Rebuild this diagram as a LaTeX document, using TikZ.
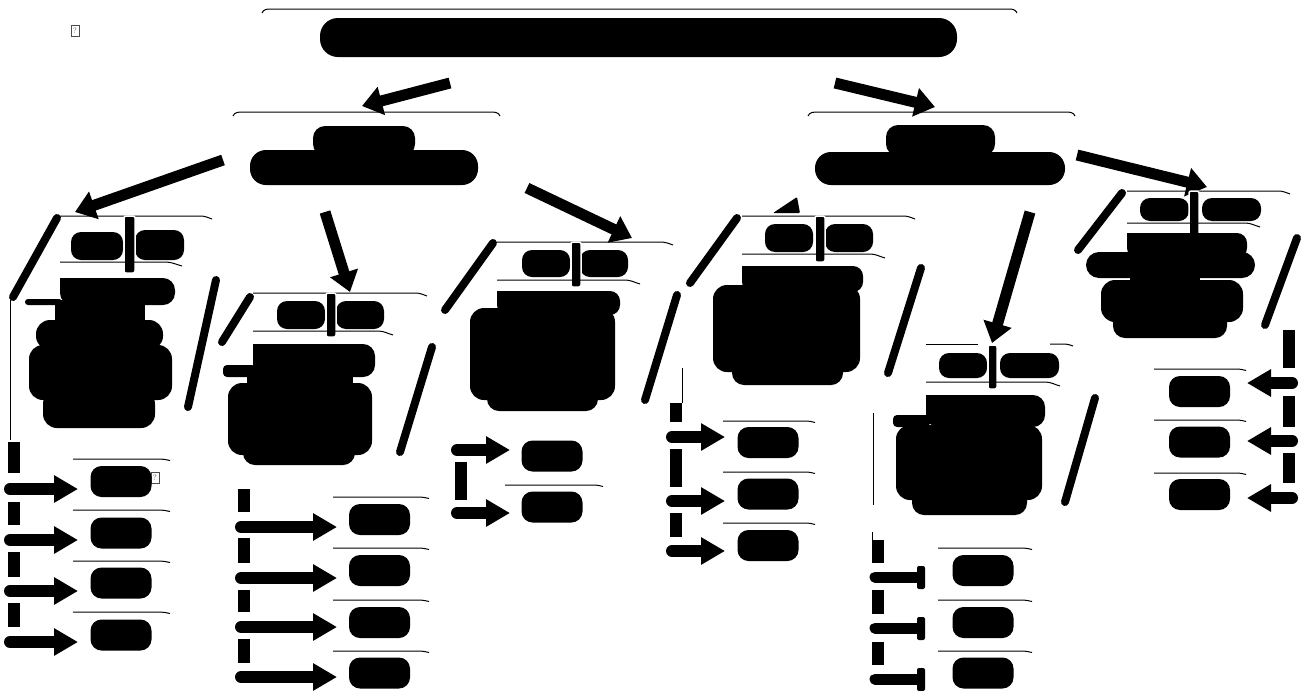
\documentclass[tikz,border=0pt]{standalone}
\usetikzlibrary{arrows.meta}
\begin{document}
\begin{tikzpicture}[x=1pt,y=-1pt,
  hline/.style={line width=1pt},
  slant/.style={line width=8pt, line cap=round},
  vbar/.style={line width=12pt},
  bigarrow/.style={line width=11pt, -{Triangle[length=20pt,width=28pt]}},
  listarrow/.style={line width=12pt, line cap=round, -{Triangle[length=24pt,width=26pt]}},
  tarrow/.style={line width=11pt, line cap=round},
  tbar/.style={fill=black, rounded corners=2pt},
  pill/.style={fill=black, rounded corners=11pt, inner sep=0pt, minimum width=61pt, minimum height=31pt},
  hbar/.style={fill=black, draw=white, line width=1.5pt, rounded corners=2pt},
  qbox/.style={draw=black!70, line width=0.6pt, inner sep=0.8pt, minimum width=8pt, minimum height=11pt, font=\fontsize{8}{8}\selectfont, text=black!70},
]
\useasboundingbox (0,0) rectangle (1310,691);

% missing-glyph boxes
\node[qbox] (q1) at (75,31) {?};
\node[qbox] (q2) at (155,478) {?};

% ---------- title ----------
\draw[hline] (262,13) to[out=70,in=180] (270,9) -- (1009,9) to[out=0,in=110] (1017,13);
\fill[rounded corners=18pt] (320,18) rectangle (957,57);
\draw[bigarrow] (450,83) -- (362,106);
\draw[bigarrow] (835,83) -- (935,107);

% ---------- second level, left ----------
\draw[hline] (233,116) to[out=70,in=180] (243,112) -- (490,112) to[out=0,in=110] (500,116);
\fill[rounded corners=12pt] (313,126) rectangle (415,156);
\fill[rounded corners=16pt] (250,150) rectangle (478,185);
\draw[bigarrow] (223,160) -- (75,212);
\draw[bigarrow] (325,212) -- (350,292);
\draw[bigarrow] (527,188) -- (632,238);

% ---------- second level, right ----------
\draw[hline] (808,116) to[out=70,in=180] (818,112) -- (1065,112) to[out=0,in=110] (1075,116);
\fill[rounded corners=12pt] (886,125) rectangle (995,156);
\fill[rounded corners=16pt] (815,152) rectangle (1065,185);
\fill[rounded corners=1pt] (773,213) -- (800,213) -- (797,197) -- cycle;
\draw[bigarrow] (1030,212) -- (992,343);
\draw[bigarrow] (1077,155) -- (1207,187);

% ---------- box A ----------
\draw[hline] (60,216) -- (200,216) to[out=0,in=160] (212,219);
\fill[rounded corners=10pt] (71,232) rectangle (123,260);
\fill[rounded corners=10pt] (135,230) rectangle (184,260);
\filldraw[hbar] (124,216) rectangle (135,273);
\draw[hline] (60,262) -- (165,262) to[out=0,in=165] (182,266);
\fill[rounded corners=12pt] (60,278) rectangle (175,305);
\fill (60,278) rectangle (80,290);
\fill[rounded corners=3pt] (25,299) rectangle (62,305);
\fill (55,300) rectangle (145,325);
\fill[rounded corners=14pt] (36,320) rectangle (163,350);
\fill[rounded corners=14pt] (29,345) rectangle (172,400);
\fill[rounded corners=14pt] (43,390) rectangle (155,428);
\draw[slant] (57,218) -- (13,297);
\draw[slant] (216,280) -- (188,407);
\draw[hline] (10,300) -- (10,440);
\foreach \a/\b in {442/473,502/525,552/577,603/627} \draw[vbar] (13.5,\a) -- (13.5,\b);
\foreach \y in {489,540,591,642} \draw[listarrow] (10,\y) -- (78,\y);
\node[pill] (a1) at (121,481.5) {};
\node[pill] (a2) at (121,533) {};
\node[pill] (a3) at (121,583) {};
\node[pill] (a4) at (121,635) {};
\foreach \y in {459,510,561,612} \draw[hline] (73,\y) -- (160,\y) to[out=0,in=170] (170,\y+1.5);

% ---------- box B ----------
\draw[hline] (253,293) -- (415,293) to[out=0,in=160] (427,296);
\fill[rounded corners=10pt] (277,301) rectangle (325,329);
\fill[rounded corners=10pt] (336,301) rectangle (384,329);
\filldraw[hbar] (326,293) rectangle (336,337);
\draw[hline] (253,331) -- (378,331) to[out=0,in=165] (393,335);
\fill[rounded corners=12pt] (253,344) rectangle (375,377);
\fill (253,344) rectangle (273,360);
\fill[rounded corners=4pt] (223,365) rectangle (256,377);
\fill (247,372) rectangle (353,386);
\fill[rounded corners=14pt] (228,383) rectangle (372,455);
\fill[rounded corners=12pt] (243,440) rectangle (355,465);
\draw[slant] (250,297) -- (222,342);
\draw[slant] (432,347) -- (400,452);
\foreach \a/\b in {489/512,538/563,590/612,639/663} \draw[vbar] (244,\a) -- (244,\b);
\foreach \y in {527,578,627,677} \draw[listarrow] (241,\y) -- (337,\y);
\node[pill] (b1) at (379.5,519.5) {};
\node[pill] (b2) at (379.5,570.5) {};
\node[pill] (b3) at (379.5,622.5) {};
\node[pill] (b4) at (379.5,673) {};
\foreach \y in {497,548,600,651} \draw[hline] (333,\y) -- (420,\y) to[out=0,in=170] (429,\y+1.5);

% ---------- box C ----------
\draw[hline] (497,242) -- (660,242) to[out=0,in=160] (673,245);
\fill[rounded corners=10pt] (522,250) rectangle (570,277);
\fill[rounded corners=10pt] (580,250) rectangle (628,277);
\filldraw[hbar] (571,242) rectangle (581,287);
\draw[hline] (497,280) -- (625,280) to[out=0,in=165] (640,284);
\fill[rounded corners=10pt] (497,291) rectangle (620,315);
\fill (497,291) rectangle (515,305);
\fill[rounded corners=14pt] (470,308) rectangle (615,400);
\fill[rounded corners=12pt] (487,385) rectangle (598,411);
\draw[slant] (493,243) -- (445,310);
\draw[slant] (677,295) -- (645,400);
\draw[vbar] (461,462) -- (461,500);
\foreach \y in {450,513} \draw[listarrow] (457,\y) -- (510,\y);
\node[pill] (c1) at (552,456) {};
\node[pill] (c2) at (552,507) {};
\draw[hline] (505,485) -- (595,485) to[out=0,in=170] (603,486.5);

% ---------- box D ----------
\draw[hline] (742,216) -- (903,216) to[out=0,in=160] (915,219);
\fill[rounded corners=10pt] (765,224) rectangle (813,252);
\fill[rounded corners=10pt] (825,224) rectangle (873,252);
\filldraw[hbar] (815,216) rectangle (825,262);
\draw[hline] (742,254) -- (870,254) to[out=0,in=165] (885,258);
\fill[rounded corners=10pt] (742,266) rectangle (863,292);
\fill (742,266) rectangle (760,280);
\fill[rounded corners=14pt] (713,285) rectangle (860,372);
\fill[rounded corners=12pt] (732,360) rectangle (843,385);
\draw[slant] (737,218) -- (690,283);
\draw[slant] (921,268) -- (888,373);
\draw[hline] (682,368) -- (682,403);
\foreach \a/\b in {403/422,449/487,513/537} \draw[vbar] (676,\a) -- (676,\b);
\foreach \y in {437,501,551} \draw[listarrow] (672,\y) -- (725,\y);
\node[pill] (d1) at (768,442.5) {};
\node[pill] (d2) at (768,494) {};
\node[pill] (d3) at (768,545.5) {};
\foreach \y in {421,472,523} \draw[hline] (723,\y) -- (807,\y) to[out=0,in=170] (815,\y+1.5);

% ---------- box E ----------
\draw[hline] (926,344) -- (978,344);
\draw[hline] (1050,344) -- (1063,344) to[out=0,in=160] (1073,346);
\fill[rounded corners=10pt] (939,353) rectangle (987,378);
\fill[rounded corners=10pt] (1000,353) rectangle (1059,378);
\filldraw[hbar] (988,345) rectangle (997,389);
\draw[hline] (926,382) -- (1045,382) to[out=0,in=165] (1060,386);
\fill[rounded corners=12pt] (926,395) rectangle (1045,427);
\fill (926,395) rectangle (945,410);
\fill[rounded corners=4pt] (893,415) rectangle (930,427);
\fill[rounded corners=14pt] (896,425) rectangle (1042,500);
\fill[rounded corners=12pt] (912,488) rectangle (1027,515);
\draw[slant] (1095,398) -- (1065,502);
\draw[hline] (873,413) -- (873,505);
\draw[hline] (872,532) -- (872,540);
\foreach \a/\b in {540/563,590/614,642/665} \draw[vbar] (877.5,\a) -- (877.5,\b);
\foreach \y in {577,628,679} {
  \draw[tarrow] (875,\y) -- (918,\y);
  \fill[tbar] (917,\y-11) rectangle (925,\y+12);
}
\node[pill] (e1) at (983,570.5) {};
\node[pill] (e2) at (983,622.5) {};
\node[pill] (e3) at (983,673) {};
\foreach \y in {548,600,651} \draw[hline] (938,\y) -- (1023,\y) to[out=0,in=170] (1032,\y+1.5);

% ---------- box F ----------
\draw[hline] (1127,191) -- (1278,191) to[out=0,in=160] (1290,194);
\fill[rounded corners=10pt] (1140,198) rectangle (1189,221);
\fill[rounded corners=10pt] (1202,198) rectangle (1261,221);
\filldraw[hbar] (1189,191) rectangle (1199,236);
\draw[hline] (1127,223) -- (1245,223) to[out=0,in=165] (1260,227);
\fill[rounded corners=10pt] (1127,233) rectangle (1247,258);
\fill (1127,233) rectangle (1145,245);
\fill[rounded corners=13pt] (1086,252) rectangle (1255,278);
\fill (1130,274) rectangle (1200,284);
\fill[rounded corners=14pt] (1101,280) rectangle (1243,322);
\fill[rounded corners=12pt] (1113,310) rectangle (1227,338);
\draw[slant] (1122,193) -- (1078,250);
\draw[slant] (1297,238) -- (1265,325);
\foreach \a/\b in {330/368,396/427,453/483} \draw[vbar] (1289,\a) -- (1289,\b);
\foreach \y in {383,441,498} \draw[listarrow] (1292,\y) -- (1247,\y);
\node[pill] (f1) at (1199.5,391.5) {};
\node[pill] (f2) at (1199.5,442) {};
\node[pill] (f3) at (1199.5,494.5) {};
\foreach \y in {369,420,473} \draw[hline] (1154,\y) -- (1238,\y) to[out=0,in=170] (1246,\y+1.5);

\end{tikzpicture}
\end{document}
